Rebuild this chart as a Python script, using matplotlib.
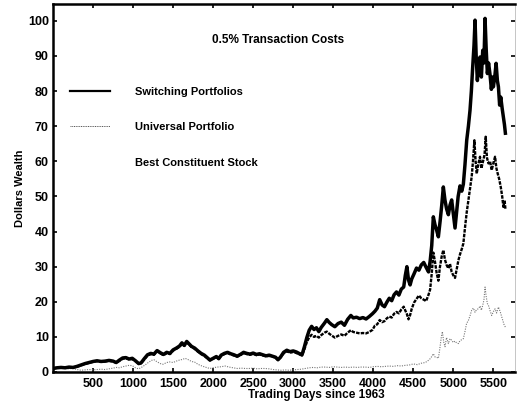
import matplotlib
matplotlib.use("Agg")
import matplotlib.pyplot as plt
from matplotlib.lines import Line2D

plt.rcParams['font.family'] = ['Liberation Sans', 'DejaVu Sans']
plt.rcParams['font.weight'] = 'bold'

# ---------------- data ----------------
sw_x = [0, 50, 100, 150, 200, 250, 300, 350, 400, 450, 500, 550, 600, 650, 700, 750, 790, 830, 870, 910,
        950, 990, 1030, 1070, 1100, 1140, 1180, 1220, 1260, 1300, 1340, 1380, 1420, 1460, 1500, 1540, 1580,
        1610, 1640, 1670, 1700, 1730, 1770, 1810, 1850, 1890, 1930, 1960, 2000, 2040, 2070, 2100, 2140,
        2180, 2220, 2260, 2300, 2340, 2380, 2420, 2460, 2500, 2540, 2580, 2620, 2660, 2700, 2740, 2780,
        2810, 2840, 2880, 2920, 2960, 3000, 3040, 3080, 3110, 3140, 3170, 3200, 3230, 3260, 3290, 3320,
        3350, 3390, 3420, 3450, 3480, 3520, 3560, 3600, 3640, 3680, 3720, 3750, 3790, 3830, 3870, 3910,
        3950, 3990, 4020, 4050, 4080, 4110, 4140, 4170, 4200, 4230, 4260, 4290, 4320, 4350, 4380, 4400,
        4420, 4440, 4460, 4480, 4510, 4540, 4570, 4600, 4630, 4660, 4690, 4710, 4730, 4750, 4770, 4790,
        4813, 4835, 4855, 4875, 4895, 4915, 4938, 4958, 4979, 5000, 5021, 5040, 5060, 5083, 5105, 5125,
        5145, 5167, 5188, 5208, 5225, 5242, 5258, 5271, 5285, 5300, 5315, 5333, 5350, 5367, 5382, 5396,
        5410, 5425, 5440, 5458, 5475, 5490, 5500, 5517, 5534, 5550, 5563, 5578, 5592, 5610, 5625, 5638, 5650]
sw_y = [1.0, 1.2, 1.3, 1.2, 1.4, 1.3, 1.6, 2.0, 2.4, 2.7, 3.0, 3.2, 3.0, 3.1, 3.3, 3.1, 2.7, 3.4, 4.0, 4.1,
        3.7, 3.9, 3.2, 2.4, 2.6, 3.8, 4.9, 5.3, 5.1, 6.1, 5.5, 5.0, 5.6, 5.3, 6.3, 6.8, 7.4,
        8.3, 7.6, 8.7, 8.0, 7.3, 6.8, 6.0, 5.3, 4.8, 4.0, 3.4, 3.9, 4.4, 3.8, 4.8, 5.3,
        5.6, 5.2, 4.9, 4.5, 5.0, 5.6, 5.3, 5.1, 5.4, 5.0, 5.2, 4.9, 4.6, 4.8, 4.5, 4.2,
        3.5, 4.2, 5.6, 6.2, 5.8, 6.0, 5.7, 5.2, 4.9, 7.2, 9.8, 11.9, 13.0, 12.1, 12.6, 11.5,
        12.7, 13.9, 14.9, 14.1, 13.5, 12.9, 13.8, 14.2, 13.3, 15.0, 16.1, 15.4, 15.6, 15.2, 15.5, 15.1,
        15.8, 16.6, 17.3, 18.2, 20.6, 19.1, 18.6, 19.9, 21.0, 20.3, 22.0, 22.8, 21.9, 23.6, 24.2, 27.5,
        30.0, 26.2, 24.8, 26.5, 28.0, 29.6, 29.0, 30.5, 31.2, 29.8, 28.5, 31.5, 36.0, 44.2, 42.0, 40.5,
        38.5, 43.0, 47.5, 52.7, 49.0, 46.5, 44.8, 47.5, 49.0, 45.0, 41.0, 45.5, 50.0, 53.0, 51.5, 53.5,
        59.0, 66.0, 70.0, 74.5, 80.0, 87.0, 93.0, 100.2, 90.0, 83.0, 87.5, 89.7, 84.0, 91.6, 88.0, 100.7,
        92.0, 85.0, 88.0, 84.7, 80.5, 84.0, 81.2, 84.0, 87.9, 83.0, 81.2, 76.0, 78.3, 75.0, 72.6, 70.5, 68.0]

un_x = [0, 50, 100, 150, 200, 250, 300, 350, 400, 450, 500, 550, 600, 650, 700, 750, 790, 830, 870, 910,
        950, 990, 1030, 1070, 1100, 1140, 1180, 1220, 1260, 1300, 1340, 1380, 1420, 1460, 1500, 1540, 1580,
        1610, 1640, 1670, 1700, 1730, 1770, 1810, 1850, 1890, 1930, 1960, 2000, 2040, 2070, 2100, 2140,
        2180, 2220, 2260, 2300, 2340, 2380, 2420, 2460, 2500, 2540, 2580, 2620, 2660, 2700, 2740, 2780,
        2810, 2840, 2880, 2920, 2960, 3000, 3040, 3080, 3110, 3140, 3170, 3200, 3230, 3260, 3290, 3320,
        3350, 3390, 3420, 3450, 3480, 3520, 3560, 3600, 3640, 3680, 3720, 3750, 3790, 3830, 3870, 3910,
        3950, 3990, 4020, 4050, 4080, 4110, 4140, 4170, 4200, 4230, 4260, 4290, 4320, 4350, 4380, 4400,
        4420, 4440, 4460, 4480, 4510, 4540, 4570, 4600, 4630, 4660, 4690, 4710, 4730, 4750, 4770, 4792,
        4813, 4833, 4855, 4875, 4895, 4915, 4938, 4958, 4979, 5000, 5021, 5040, 5063, 5083, 5105, 5125,
        5145, 5167, 5188, 5208, 5229, 5245, 5263, 5278, 5292, 5310, 5333, 5350, 5375, 5390, 5404, 5420,
        5438, 5458, 5479, 5500, 5521, 5538, 5554, 5572, 5592, 5610, 5625, 5640, 5650]
un_y = [1.0, 1.2, 1.3, 1.2, 1.3, 1.3, 1.5, 1.9, 2.3, 2.6, 2.9, 3.1, 2.9, 3.0, 3.2, 3.0, 2.6, 3.2, 3.8, 3.9,
        3.6, 3.7, 3.1, 2.3, 2.5, 3.6, 4.7, 5.1, 4.9, 5.9, 5.3, 4.8, 5.4, 5.1, 6.1, 6.6, 7.2,
        8.0, 7.4, 8.4, 7.8, 7.1, 6.6, 5.8, 5.1, 4.6, 3.9, 3.3, 3.8, 4.3, 3.7, 4.6, 5.1,
        5.4, 5.0, 4.7, 4.4, 4.8, 5.4, 5.1, 4.9, 5.2, 4.8, 5.0, 4.7, 4.5, 4.6, 4.4, 4.1,
        3.4, 4.1, 5.3, 5.9, 5.5, 5.7, 5.4, 5.0, 4.7, 6.5, 8.5, 9.9, 10.6, 10.0, 10.3, 9.8,
        10.5, 11.2, 11.5, 10.9, 10.4, 9.8, 10.3, 10.7, 10.3, 11.2, 11.9, 11.4, 11.2, 11.0, 11.1, 11.0,
        11.4, 12.0, 13.2, 13.6, 14.8, 14.2, 14.5, 15.3, 15.8, 15.5, 16.6, 17.1, 16.7, 17.8, 18.6, 17.5,
        16.5, 15.0, 16.2, 18.0, 19.8, 20.8, 21.8, 21.0, 20.6, 20.2, 22.0, 23.5, 28.0, 34.0, 31.5, 28.1,
        26.0, 30.0, 33.0, 34.7, 32.0, 30.5, 29.5, 30.8, 28.5, 27.5, 26.8, 29.0, 31.8, 33.5, 35.0, 36.6,
        41.0, 45.5, 48.9, 52.0, 55.6, 60.0, 66.0, 60.0, 56.5, 59.0, 61.3, 58.0, 60.4, 62.0, 67.0, 61.0,
        59.4, 60.0, 57.5, 59.5, 61.3, 58.0, 56.5, 55.0, 52.7, 50.0, 47.0, 48.9, 46.5]

bs_x = [0, 60, 120, 180, 240, 300, 350, 400, 450, 500, 550, 600, 650, 700, 750, 790, 830, 870, 910, 950,
        990, 1030, 1070, 1110, 1150, 1190, 1230, 1260, 1300, 1340, 1375, 1410, 1450, 1500, 1540, 1580,
        1620, 1650, 1690, 1730, 1770, 1810, 1850, 1900, 1958, 2000, 2050, 2100, 2150, 2200, 2250, 2300,
        2350, 2400, 2450, 2500, 2550, 2600, 2650, 2700, 2750, 2800, 2850, 2900, 2950, 3000, 3050, 3100,
        3150, 3200, 3250, 3300, 3350, 3400, 3450, 3500, 3550, 3600, 3650, 3700, 3750, 3800, 3850, 3900,
        3950, 4000, 4050, 4100, 4150, 4200, 4250, 4300, 4350, 4400, 4450, 4500, 4550, 4600, 4650, 4700,
        4730, 4750, 4770, 4792, 4813, 4830, 4850, 4863, 4880, 4896, 4915, 4938, 4958, 4980, 5000, 5020,
        5040, 5063, 5083, 5105, 5125, 5145, 5165, 5188, 5208, 5229, 5250, 5271, 5290, 5313, 5335, 5350,
        5367, 5382, 5396, 5410, 5425, 5438, 5458, 5479, 5500, 5521, 5540, 5563, 5585, 5604, 5620, 5636, 5650]
bs_y = [1.0, 1.0, 1.1, 0.9, 1.0, 0.7, 0.5, 0.6, 0.7, 0.6, 0.7, 0.8, 0.7, 0.9, 1.1, 1.3, 1.2, 1.5, 1.7, 1.9,
        1.8, 1.2, 0.9, 1.4, 2.0, 2.7, 3.3, 3.5, 2.9, 2.4, 2.2, 2.6, 2.9, 2.7, 3.1, 3.4,
        3.6, 3.9, 3.5, 3.0, 2.8, 2.2, 1.8, 1.4, 1.0, 1.2, 1.4, 1.5, 1.7, 1.4, 1.2, 1.0,
        1.1, 1.0, 1.0, 1.1, 0.9, 1.0, 1.0, 0.9, 0.7, 0.6, 0.5, 0.6, 0.5, 0.6, 0.7, 0.8,
        1.0, 1.2, 1.3, 1.2, 1.4, 1.4, 1.3, 1.5, 1.4, 1.3, 1.4, 1.3, 1.4, 1.3, 1.4, 1.4,
        1.3, 1.5, 1.6, 1.5, 1.6, 1.7, 1.6, 1.8, 1.7, 1.9, 2.0, 2.3, 2.1, 2.5, 2.7, 3.5,
        4.4, 5.2, 4.3, 4.2, 3.9, 6.5, 10.0, 11.5, 8.5, 7.2, 9.8, 8.1, 9.5, 9.0, 8.4, 8.8,
        8.3, 8.1, 8.9, 9.2, 9.5, 11.5, 13.8, 14.7, 16.0, 17.6, 18.2, 17.0, 17.8, 18.0, 18.8, 17.6,
        19.0, 20.5, 24.2, 21.5, 19.5, 19.0, 17.5, 16.1, 17.2, 18.0, 16.8, 18.5, 17.2, 15.7, 14.5, 13.3, 12.8]

labels = ["Switching Portfolios", "Universal Portfolio", "Best Constituent Stock"]
xticks = [500, 1000, 1500, 2000, 2500, 3000, 3500, 4000, 4500, 5000, 5500]
yticks = [0, 10, 20, 30, 40, 50, 60, 70, 80, 90, 100]
title_text = "0.5% Transaction Costs"
xlabel = "Trading Days since 1963"
ylabel = "Dollars Wealth"

# ---------------- figure ----------------
fig = plt.figure(figsize=(5.17, 4.04), dpi=100)
ax = fig.add_axes([53 / 517, 32 / 404, 462 / 517, 368 / 404])

ax.plot(bs_x, bs_y, color='#777777', lw=0.8, ls=(0, (1, 1.2)), zorder=2)
ax.plot(un_x, un_y, color='black', lw=1.7, ls=(0, (1.5, 0.5)), zorder=3)
ax.plot(sw_x, sw_y, color='black', lw=2.5, zorder=4)

ax.set_xlim(0, 5770)
ax.set_ylim(0, 104.8)
ax.set_xticks(xticks)
ax.set_yticks(yticks)
ax.tick_params(axis='x', which='both', direction='in', length=3, width=1.2, top=True,
               labelsize=9, pad=4)
ax.tick_params(axis='y', which='both', direction='in', length=3, width=1.2, right=True,
               labelsize=9, pad=3)
for lab in ax.get_xticklabels() + ax.get_yticklabels():
    lab.set_fontweight('bold')

for side in ['left', 'bottom', 'top']:
    ax.spines[side].set_linewidth(1.8)
ax.spines['right'].set_linewidth(0.6)
ax.spines['right'].set_color('#bbbbbb')

ax.set_xlabel(xlabel, fontsize=8.5, fontweight='bold', labelpad=1)
ax.xaxis.set_label_coords(0.571, -0.045)
ax.xaxis.label.set_va('top')
ax.set_ylabel(ylabel, fontsize=8, fontweight='bold', labelpad=2)

ax.text(2810, 94.5, title_text, fontsize=8.5, fontweight='bold', ha='center', va='center')

handles = [Line2D([], [], color='black', lw=1.6),
           Line2D([], [], color='#555555', lw=0.7, ls=(0, (1, 0.8))),
           Line2D([], [], color='none', lw=0.7)]
leg = ax.legend(handles, labels, loc='upper left', bbox_to_anchor=(0.0365, 0.775),
                frameon=False, fontsize=8, handlelength=3.6, handletextpad=2.3,
                labelspacing=2.3, borderpad=0, borderaxespad=0)
for t in leg.get_texts():
    t.set_fontweight('bold')

fig.savefig("out.png", dpi=100)
